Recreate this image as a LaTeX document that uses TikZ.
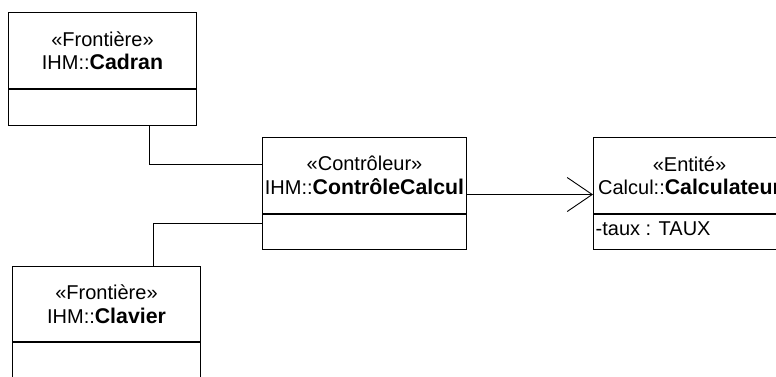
\documentclass[tikz,border=0pt]{standalone}
\usepackage{fontspec}
\setmainfont{Liberation Sans}
\usetikzlibrary{arrows.meta}
\newcommand{\clsname}[1]{{\fontsize{21.3}{23.5}\selectfont\bfseries #1}}
\begin{document}
\begin{tikzpicture}[x=1pt,y=-1pt,
  box/.style={draw, line width=1pt, anchor=north west, inner sep=0pt, align=center,
    font=\fontsize{20}{23.5}\selectfont},
  divider/.style={line width=1.6pt},
  conn/.style={line width=0.9pt},
  txt/.style={font=\fontsize{20}{23.5}\selectfont, inner sep=0pt}]
\useasboundingbox (0,0) rectangle (776,376);
\clip (0,0) rectangle (776,376);
% Cadran
\node[box, minimum width=188pt, minimum height=76pt] (cadH) at (8,12)
  {«Frontière»\\IHM::\clsname{Cadran}};
\node[box, minimum width=188pt, minimum height=37pt] (cadB) at (8,88) {};
\draw[divider] (cadH.south west) -- (cadH.south east);
% Controleur
\node[box, minimum width=204pt, minimum height=76pt] (ctrlH) at (262,137)
  {«Contrôleur»\\IHM::\clsname{ContrôleCalcul}};
\node[box, minimum width=204pt, minimum height=36pt] (ctrlB) at (262,213) {};
\draw[divider] (ctrlH.south west) -- (ctrlH.south east);
% Calculateur
\node[box, minimum width=192pt, minimum height=76pt] (calcH) at (593,137)
  {«Entité»\\Calcul::\clsname{Calculateur}};
\node[box, minimum width=192pt, minimum height=36pt] (calcB) at (593,213) {};
\draw[divider] (calcH.south west) -- (calcH.south east);
\node[txt, anchor=base west] (taux) at (595.5,235) {-taux : TAUX};
% Clavier
\node[box, minimum width=188pt, minimum height=75pt] (clavH) at (12,266)
  {«Frontière»\\IHM::\clsname{Clavier}};
\node[box, minimum width=188pt, minimum height=40pt] (clavB) at (12,341) {};
\draw[divider] (clavH.south west) -- (clavH.south east);
% connectors
\draw[conn] ([xshift=47pt]cadB.south) |- ([yshift=11pt]ctrlH.west);
\draw[conn] ([xshift=47pt]clavH.north) |- ([yshift=8pt]ctrlB.west);
\draw[conn, -{Straight Barb[length=25pt,width=34pt,line width=0.9pt]}]
  ([yshift=-19pt]ctrlH.east) -- ([yshift=-19pt]calcH.west);
\end{tikzpicture}
\end{document}
